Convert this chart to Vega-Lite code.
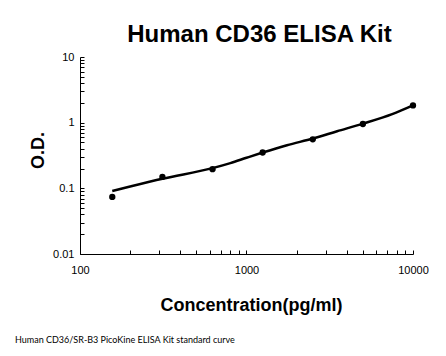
{
  "$schema": "https://vega.github.io/schema/vega-lite/v6.json",
  "background": "white",
  "padding": {"left": 15, "top": 23, "right": 0, "bottom": 0},
  "title": {
    "text": "Human CD36/SR-B3 PicoKine ELISA Kit standard curve",
    "orient": "bottom",
    "anchor": "start",
    "font": "Lato",
    "fontSize": 9,
    "fontWeight": "normal",
    "color": "black",
    "offset": 22,
    "dx": -14
  },
  "datasets": {
    "points": [
      {"conc": 156.25, "od": 0.074},
      {"conc": 312.5, "od": 0.149},
      {"conc": 625, "od": 0.196},
      {"conc": 1250, "od": 0.351},
      {"conc": 2500, "od": 0.558},
      {"conc": 5000, "od": 0.955},
      {"conc": 10000, "od": 1.83}
    ],
    "curve": [
      {"conc": 156.25, "od": 0.0912},
      {"conc": 200, "od": 0.1066},
      {"conc": 312.5, "od": 0.140},
      {"conc": 625, "od": 0.203},
      {"conc": 800, "od": 0.242},
      {"conc": 1000, "od": 0.292},
      {"conc": 1250, "od": 0.351},
      {"conc": 1750, "od": 0.454},
      {"conc": 2500, "od": 0.573},
      {"conc": 3500, "od": 0.740},
      {"conc": 5000, "od": 0.966},
      {"conc": 7500, "od": 1.35},
      {"conc": 10000, "od": 1.83}
    ]
  },
  "vconcat": [
    {
      "title": {
        "text": "Human CD36 ELISA Kit",
        "font": "Liberation Sans",
        "fontSize": 24,
        "fontWeight": "bold",
        "color": "black",
        "anchor": "middle",
        "dx": 13,
        "offset": 4
      },
      "width": 333,
      "height": 197,
      "encoding": {
        "x": {
          "field": "conc",
          "type": "quantitative",
          "scale": {"type": "log", "domain": [100, 10000], "nice": false},
          "axis": {
            "title": "Concentration(pg/ml)",
            "values": [100, 200, 300, 400, 500, 600, 700, 800, 900, 1000, 2000, 3000, 4000, 5000, 6000, 7000, 8000, 9000, 10000],
            "format": "d",
            "labelExpr": "indexof([100, 1000, 10000], datum.value) >= 0 ? datum.label : ''",
            "labelFlush": false,
            "labelOverlap": false,
            "labelPadding": 14,
            "titleX": 171,
            "titleY": 56,
            "titleBaseline": "alphabetic",
            "titleAnchor": null
          }
        },
        "y": {
          "field": "od",
          "type": "quantitative",
          "scale": {"type": "log", "domain": [0.01, 10], "nice": false},
          "axis": {
            "title": "O.D.",
            "values": [0.01, 0.02, 0.03, 0.04, 0.05, 0.06, 0.07, 0.08, 0.09, 0.1, 0.2, 0.3, 0.4, 0.5, 0.6, 0.7, 0.8, 0.9, 1, 2, 3, 4, 5, 6, 7, 8, 9, 10],
            "format": "~g",
            "labelExpr": "indexof([0.01, 0.1, 1, 10], datum.value) >= 0 ? datum.label : ''",
            "labelFlush": false,
            "labelOverlap": false,
            "labelPadding": 10,
            "titleX": -42,
            "titleY": 93,
            "titleBaseline": "middle",
            "titleAnchor": null
          }
        }
      },
      "layer": [
        {
          "data": {"name": "curve"},
          "mark": {"type": "line", "color": "black", "strokeWidth": 2.5, "interpolate": "monotone"}
        },
        {
          "data": {"name": "points"},
          "mark": {"type": "point", "filled": true, "color": "black", "size": 40, "opacity": 1}
        }
      ]
    }
  ],
  "config": {
    "view": {"stroke": null},
    "axis": {
      "grid": false,
      "domainColor": "black",
      "domainWidth": 1,
      "tickColor": "black",
      "tickSize": -4,
      "tickWidth": 1,
      "labelFont": "Liberation Sans",
      "labelFontSize": 11,
      "labelColor": "black",
      "titleFont": "Liberation Sans",
      "titleFontSize": 18,
      "titleFontWeight": "bold",
      "titleColor": "black"
    }
  }
}
